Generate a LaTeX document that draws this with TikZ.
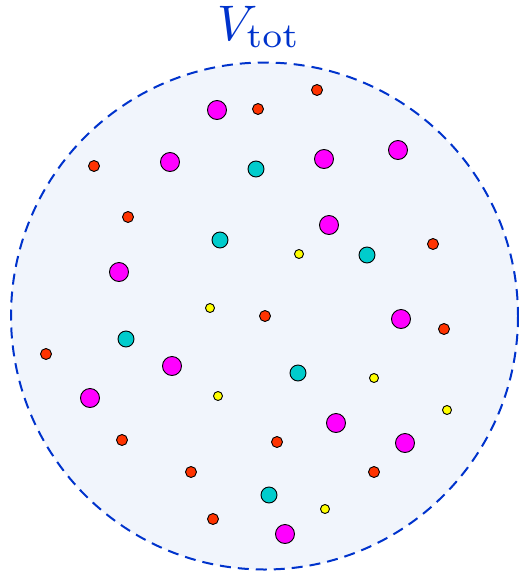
\documentclass[tikz,border=0pt]{standalone}
\begin{document}
\begin{tikzpicture}[x=1pt,y=-1pt,
  big/.style={circle,draw=black,line width=0.9pt,fill=magball,minimum size=19pt,inner sep=0pt},
  mid/.style={circle,draw=black,line width=0.9pt,fill=cyanball,minimum size=16pt,inner sep=0pt},
  sml/.style={circle,draw=black,line width=0.9pt,fill=redball,minimum size=11pt,inner sep=0pt},
  tiny/.style={circle,draw=black,line width=0.9pt,fill=yelball,minimum size=9pt,inner sep=0pt}]
\definecolor{magball}{RGB}{255,0,255}
\definecolor{cyanball}{RGB}{0,204,204}
\definecolor{redball}{RGB}{255,51,0}
\definecolor{yelball}{RGB}{255,255,0}
\definecolor{vfill}{RGB}{241,245,252}
\definecolor{vblue}{RGB}{0,51,204}
\useasboundingbox (0,0) rectangle (519,571);
\draw[vblue,fill=vfill,line width=2pt,dash pattern=on 11pt off 7pt] (264.5,316) circle (253.5);
\node[text=vblue,scale=5,transform shape=false,inner sep=0pt] (lbl) at (259,27) {$V_{\mathrm{tot}}$};
% magenta
\foreach \x/\y [count=\i] in {217/110,170/162,324/159,398/150,329/225,119/272,401/319,172/366,90/398,336/423,405/443,285/534}
  \node[big] (m\i) at (\x,\y) {};
% cyan
\foreach \x/\y [count=\i] in {256/169,220/240,367/255,126/339,298/373,269/495}
  \node[mid] (c\i) at (\x,\y) {};
% red
\foreach \x/\y [count=\i] in {258/109,317/90,94/166,128/217,433/244,265/316,444/329,46/354,122/440,277/442,191/472,374/472,213/519}
  \node[sml] (r\i) at (\x,\y) {};
% yellow
\foreach \x/\y [count=\i] in {299/254,210/308,374/378,218/396,447/410,325/509}
  \node[tiny] (y\i) at (\x,\y) {};
\end{tikzpicture}
\end{document}
